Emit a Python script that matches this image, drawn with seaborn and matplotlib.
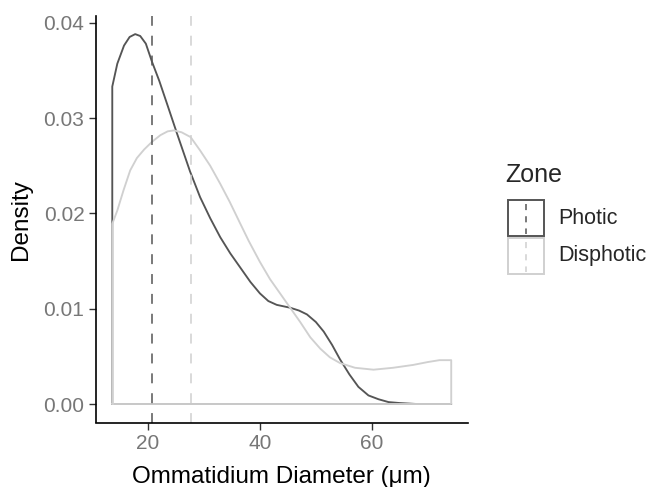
import matplotlib
matplotlib.use("Agg")
import matplotlib.pyplot as plt
from matplotlib.patches import Rectangle
from matplotlib.lines import Line2D
import pandas as pd
import seaborn as sns

# density outlines (full polygon: verticals + baseline)
photic_x = [13.6, 13.6, 14.5, 15.7, 16.7, 17.7, 18.6, 19.6, 20.7, 22.0, 23.5, 25.1,
            27.5, 29.3, 31.1, 32.9, 34.7, 36.5, 38.3, 40.0, 41.5, 43.0, 45.4,
            47.0, 48.4, 50.0, 51.4, 52.9, 54.3, 56.0, 57.6, 59.4, 61.2, 63.0,
            65.0, 68.0, 74.2, 74.2, 13.6]
photic_y = [0.0, 0.0333, 0.0357, 0.0376, 0.0385, 0.0388, 0.0386, 0.0378, 0.0359,
            0.0339, 0.0313, 0.0285, 0.0244, 0.0217, 0.0195, 0.0175, 0.0158,
            0.0143, 0.0128, 0.0116, 0.0108, 0.0104, 0.0101, 0.0098, 0.0094,
            0.0086, 0.0076, 0.0062, 0.0047, 0.0031, 0.0018, 0.0009, 0.0005,
            0.0002, 0.0001, 0.0, 0.0, 0.0, 0.0]

disphotic_x = [13.6, 13.6, 14.5, 15.6, 16.8, 18.0, 19.3, 20.7, 22.2, 23.5, 24.6,
               26.0, 27.6, 29.3, 31.1, 32.9, 34.6, 36.5, 38.0, 40.0, 41.8, 43.6,
               45.4, 47.2, 49.0, 50.8, 52.5, 54.3, 57.0, 60.3, 63.8, 67.4, 70.0,
               72.1, 74.2, 74.2, 13.6]
disphotic_y = [0.0, 0.0189, 0.0203, 0.0224, 0.0245, 0.0258, 0.0267, 0.0275,
               0.0282, 0.0286, 0.0287, 0.0285, 0.0280, 0.0266, 0.0250, 0.0231,
               0.0212, 0.0189, 0.0171, 0.0149, 0.0131, 0.0116, 0.0101, 0.0086,
               0.0070, 0.0058, 0.0049, 0.0043, 0.0038, 0.0036, 0.0038, 0.0041,
               0.0044, 0.0046, 0.0046, 0.0, 0.0]

zones = ["Photic", "Disphotic"]
zone_means = [20.7, 27.7]
zone_colors = ["#555555", "#d0d0d0"]

df = pd.concat([
    pd.DataFrame({"x": photic_x, "y": photic_y, "Zone": "Photic"}),
    pd.DataFrame({"x": disphotic_x, "y": disphotic_y, "Zone": "Disphotic"}),
])

sns.set_style("ticks")
plt.rcParams["font.family"] = ["Liberation Sans", "DejaVu Sans"]

dash = (0, (6.5, 6.5))

fig = plt.figure(figsize=(6.49, 4.87), dpi=100)
ax = fig.add_axes([95.5 / 649, 1 - 422.5 / 487, (468 - 95.5) / 649, (422.5 - 16) / 487])

sns.lineplot(data=df, x="x", y="y", hue="Zone", hue_order=zones,
             palette=zone_colors, sort=False, estimator=None,
             linewidth=1.35, legend=False, ax=ax)
for m, c in zip(zone_means, zone_colors):
    ax.axvline(m, color=c, linestyle=dash, linewidth=1.1)

ax.set_xlim(10.6, 77.2)
ax.set_ylim(-0.00194, 0.0407)
ax.set_xticks([20, 40, 60])
ax.set_yticks([0.0, 0.01, 0.02, 0.03, 0.04])
ax.set_yticklabels(["0.00", "0.01", "0.02", "0.03", "0.04"])
ax.set_xlabel("Ommatidium Diameter (μm)", fontsize=17.5, color="black", labelpad=9.5)
ax.set_ylabel("Density", fontsize=17.5, color="black", labelpad=8.5)
ax.tick_params(axis="both", labelsize=15, labelcolor="#777777", color="#333333",
               length=5, width=1.0, pad=3)
sns.despine(ax=ax)
for s in ["left", "bottom"]:
    ax.spines[s].set_color("black")
    ax.spines[s].set_linewidth(1.2)


# legend drawn in figure pixels
def px(x, y):
    return x / 649, 1 - y / 487


fig.text(*px(505, 175), "Zone", fontsize=18, va="center", ha="left")
for i, (z, c) in enumerate(zip(zones, zone_colors)):
    top = 200 + i * 37.5
    x0, y0 = px(508, top + 36)
    fig.add_artist(Rectangle((x0, y0), 36 / 649, 36 / 487, transform=fig.transFigure,
                             facecolor="white", edgecolor=c, linewidth=1.4))
    fig.add_artist(Line2D([526 / 649, 526 / 649], [1 - (top + 4) / 487, 1 - (top + 34) / 487],
                          transform=fig.transFigure, color=c, linewidth=1.1,
                          linestyle=(0, (4, 4))))
    fig.text(*px(558, top + 18.5), z, fontsize=15.5, va="center", ha="left")

fig.savefig("out.png", dpi=100)
